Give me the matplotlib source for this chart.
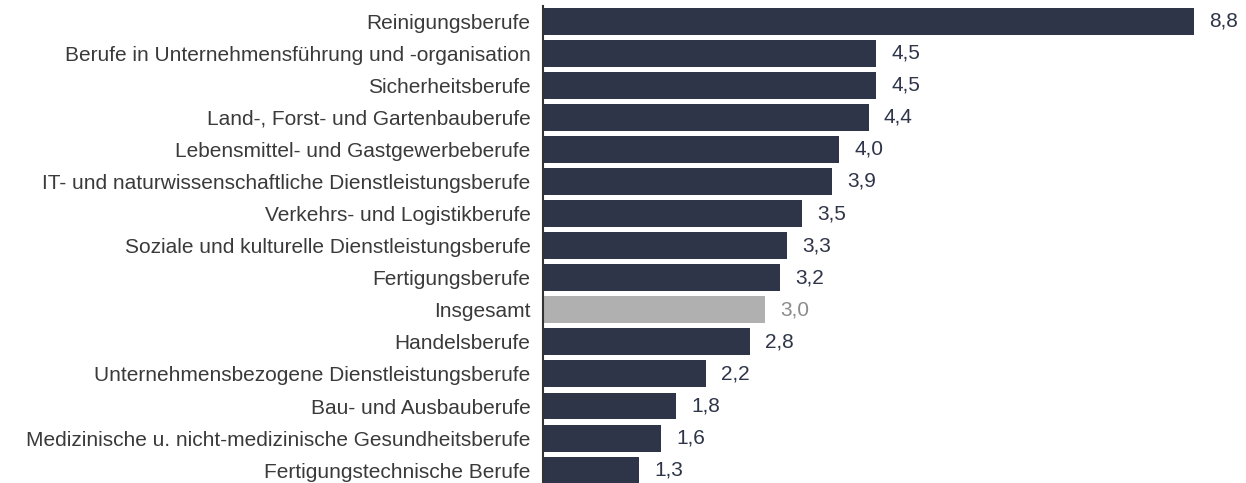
import matplotlib.pyplot as plt

plt.rcParams['font.family'] = ['Liberation Sans', 'DejaVu Sans']

categories = [
    'Reinigungsberufe',
    'Berufe in Unternehmensführung und -organisation',
    'Sicherheitsberufe',
    'Land-, Forst- und Gartenbauberufe',
    'Lebensmittel- und Gastgewerbeberufe',
    'IT- und naturwissenschaftliche Dienstleistungsberufe',
    'Verkehrs- und Logistikberufe',
    'Soziale und kulturelle Dienstleistungsberufe',
    'Fertigungsberufe',
    'Insgesamt',
    'Handelsberufe',
    'Unternehmensbezogene Dienstleistungsberufe',
    'Bau- und Ausbauberufe',
    'Medizinische u. nicht-medizinische Gesundheitsberufe',
    'Fertigungstechnische Berufe',
]
values = [8.8, 4.5, 4.5, 4.4, 4.0, 3.9, 3.5, 3.3, 3.2, 3.0, 2.8, 2.2, 1.8, 1.6, 1.3]
highlight = 'Insgesamt'

navy = '#2e3549'
grey = '#b0b0b0'

fig = plt.figure(figsize=(12.46, 4.83), dpi=100)
ax = fig.add_axes([543 / 1246, 0, 1 - 543 / 1246, 1 - 6 / 483])

pos = list(range(len(categories)))
colors = [grey if c == highlight else navy for c in categories]
bars = ax.barh(pos, values, height=0.84, color=colors)

# value labels
for b, v, c in zip(bars, values, categories):
    tcol = '#8c8c8c' if c == highlight else navy
    ax.annotate(f'{v:.1f}'.replace('.', ','), (b.get_width(), b.get_y() + b.get_height() / 2),
                xytext=(11, 0), textcoords='offset points', va='center', ha='left',
                fontsize=15, color=tcol)

ax.set_yticks(pos)
ax.set_yticklabels(categories, fontsize=15, color='#3a3a3a')
ax.tick_params(axis='y', length=0, pad=9)
ax.set_xticks([])
ax.set_xlim(0, 9.5)
ax.set_ylim(14.4, -0.47)

for s in ['top', 'right', 'bottom']:
    ax.spines[s].set_visible(False)
ax.spines['left'].set_color('#333333')
ax.spines['left'].set_linewidth(1.5)

plt.savefig('out.png', dpi=100)
